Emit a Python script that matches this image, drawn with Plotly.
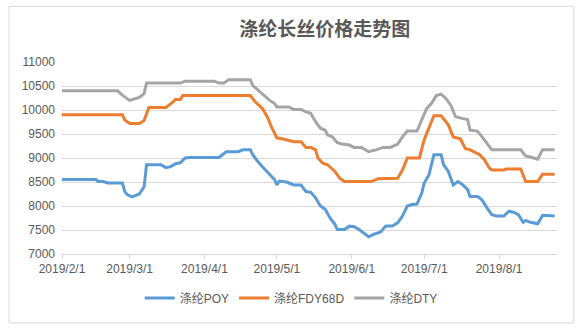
import plotly.graph_objects as go

# Polyester filament prices (yuan/ton), 2019
poy_dates = [
    "2019-02-01", "2019-02-15", "2019-02-16", "2019-02-18", "2019-02-20", "2019-02-26",
    "2019-02-27", "2019-02-28", "2019-03-02", "2019-03-05", "2019-03-07", "2019-03-08",
    "2019-03-14", "2019-03-16", "2019-03-18", "2019-03-20", "2019-03-22", "2019-03-24",
    "2019-03-26", "2019-04-07", "2019-04-10", "2019-04-15", "2019-04-17", "2019-04-20",
    "2019-04-21", "2019-04-23", "2019-04-25", "2019-04-27", "2019-04-30", "2019-05-01",
    "2019-05-02", "2019-05-05", "2019-05-08", "2019-05-11", "2019-05-13", "2019-05-15",
    "2019-05-17", "2019-05-19", "2019-05-21", "2019-05-23", "2019-05-25", "2019-05-26",
    "2019-05-29", "2019-05-31", "2019-06-02", "2019-06-04", "2019-06-06", "2019-06-08",
    "2019-06-10", "2019-06-13", "2019-06-15", "2019-06-18", "2019-06-20", "2019-06-22",
    "2019-06-24", "2019-06-26", "2019-06-28", "2019-06-30", "2019-07-01", "2019-07-03",
    "2019-07-05", "2019-07-08", "2019-07-09", "2019-07-11", "2019-07-13", "2019-07-15",
    "2019-07-17", "2019-07-19", "2019-07-20", "2019-07-23", "2019-07-24", "2019-07-25",
    "2019-07-27", "2019-07-29", "2019-07-31", "2019-08-03", "2019-08-05", "2019-08-07",
    "2019-08-09", "2019-08-11", "2019-08-12", "2019-08-14", "2019-08-17", "2019-08-19",
    "2019-08-21", "2019-08-24",
]
poy_values = [
    8550, 8550, 8510, 8510, 8480, 8480,
    8300, 8240, 8190, 8250, 8400, 8860,
    8860, 8800, 8820, 8880, 8900, 9000,
    9010, 9010, 9130, 9130, 9170, 9170,
    9070, 8930, 8820, 8720, 8550, 8440,
    8520, 8500, 8440, 8440, 8300, 8285,
    8170, 8000, 7930, 7750, 7620, 7510,
    7510, 7580, 7570, 7510, 7440, 7360,
    7410, 7460, 7580, 7590, 7650, 7790,
    8000, 8030, 8040, 8270, 8480, 8650,
    9070, 9070, 8860, 8720, 8440, 8510,
    8440, 8340, 8200, 8200, 8170, 8120,
    7960, 7820, 7790, 7790, 7890, 7870,
    7820, 7660, 7700, 7660, 7630, 7800,
    7800, 7790,
]

fdy_dates = [
    "2019-02-01", "2019-02-26", "2019-02-27", "2019-03-01", "2019-03-05", "2019-03-07",
    "2019-03-09", "2019-03-16", "2019-03-19", "2019-03-20", "2019-03-22", "2019-03-23",
    "2019-04-20", "2019-04-22", "2019-04-25", "2019-04-27", "2019-04-29", "2019-05-01",
    "2019-05-04", "2019-05-08", "2019-05-11", "2019-05-13", "2019-05-15", "2019-05-17",
    "2019-05-18", "2019-05-20", "2019-05-22", "2019-05-25", "2019-05-27", "2019-05-29",
    "2019-06-09", "2019-06-12", "2019-06-20", "2019-06-22", "2019-06-24", "2019-06-29",
    "2019-07-01", "2019-07-03", "2019-07-05", "2019-07-08", "2019-07-11", "2019-07-13",
    "2019-07-16", "2019-07-18", "2019-07-20", "2019-07-24", "2019-07-26", "2019-07-28",
    "2019-07-29", "2019-08-03", "2019-08-04", "2019-08-10", "2019-08-12", "2019-08-17",
    "2019-08-19", "2019-08-24",
]
fdy_values = [
    9900, 9900, 9790, 9720, 9720, 9780,
    10050, 10050, 10170, 10220, 10220, 10300,
    10300, 10170, 10030, 9860, 9620, 9420,
    9390, 9340, 9340, 9220, 9220, 9170,
    9000, 8890, 8860, 8720, 8580, 8510,
    8510, 8570, 8580, 8750, 9000, 9000,
    9380, 9620, 9880, 9880, 9690, 9440,
    9400, 9200, 9170, 9070, 8960, 8790,
    8750, 8750, 8770, 8770, 8510, 8510,
    8660, 8660,
]

dty_dates = [
    "2019-02-01", "2019-02-24", "2019-02-26", "2019-03-01", "2019-03-05", "2019-03-07",
    "2019-03-08", "2019-03-22", "2019-03-24", "2019-04-05", "2019-04-07", "2019-04-09",
    "2019-04-11", "2019-04-20", "2019-04-21", "2019-04-24", "2019-04-26", "2019-04-28",
    "2019-04-30", "2019-05-01", "2019-05-06", "2019-05-08", "2019-05-11", "2019-05-13",
    "2019-05-15", "2019-05-17", "2019-05-19", "2019-05-21", "2019-05-22", "2019-05-24",
    "2019-05-26", "2019-05-28", "2019-05-31", "2019-06-02", "2019-06-05", "2019-06-08",
    "2019-06-11", "2019-06-14", "2019-06-17", "2019-06-20", "2019-06-22", "2019-06-24",
    "2019-06-28", "2019-06-30", "2019-07-02", "2019-07-04", "2019-07-06", "2019-07-08",
    "2019-07-10", "2019-07-12", "2019-07-14", "2019-07-17", "2019-07-19", "2019-07-20",
    "2019-07-23", "2019-07-25", "2019-07-27", "2019-07-29", "2019-08-10", "2019-08-12",
    "2019-08-14", "2019-08-17", "2019-08-19", "2019-08-24",
]
dty_values = [
    10400, 10400, 10310, 10200, 10260, 10340,
    10560, 10560, 10600, 10600, 10560, 10560,
    10630, 10630, 10510, 10375, 10300, 10200,
    10135, 10065, 10065, 10010, 10010, 9960,
    9930, 9755, 9620, 9580, 9480, 9440,
    9320, 9290, 9270, 9220, 9220, 9130,
    9170, 9220, 9220, 9290, 9440, 9560,
    9560, 9790, 10030, 10135, 10300, 10330,
    10240, 10100, 9860, 9820, 9800, 9580,
    9560, 9440, 9300, 9170, 9170, 9045,
    9020, 8975, 9170, 9170,
]

series_names = ["涤纶POY", "涤纶FDY68D", "涤纶DTY"]
series_colors = ["#5B9BD5", "#ED7D31", "#A5A5A5"]

month_ticks = ["2019-02-01", "2019-03-01", "2019-04-01", "2019-05-01",
               "2019-06-01", "2019-07-01", "2019-08-01"]
month_labels = ["2019/2/1", "2019/3/1", "2019/4/1", "2019/5/1",
                "2019/6/1", "2019/7/1", "2019/8/1"]
y_ticks = [7000, 7500, 8000, 8500, 9000, 9500, 10000, 10500, 11000]

title_text = "涤纶长丝价格走势图"

TEXT = "#595959"
GRID = "#D9D9D9"
FONT = "Liberation Sans, Arial, Noto Sans CJK SC, sans-serif"

fig = go.Figure()
for name, xs, ys, color in zip(series_names,
                               [poy_dates, fdy_dates, dty_dates],
                               [poy_values, fdy_values, dty_values],
                               series_colors):
    fig.add_trace(go.Scatter(x=xs, y=ys, name=name, mode="lines",
                             line=dict(color=color, width=3)))

fig.update_layout(
    width=581, height=330,
    margin=dict(l=62, r=24, t=62, b=76),
    paper_bgcolor="white", plot_bgcolor="white",
    font=dict(family=FONT, size=12, color=TEXT),
    title=dict(text=title_text, x=0.559, xanchor="center",
               y=0.912, yanchor="middle", yref="container",
               font=dict(family="Noto Sans CJK SC", size=19, color=TEXT,
                         weight="bold")),
    showlegend=True,
    legend=dict(orientation="h", x=0.463, xanchor="center",
                y=-0.229, yanchor="middle",
                font=dict(family=FONT, size=12, color=TEXT),
                itemwidth=30, bgcolor="rgba(0,0,0,0)"),
    xaxis=dict(type="date", range=["2019-02-01", "2019-08-25"],
               tickvals=month_ticks, ticktext=month_labels,
               showgrid=False, zeroline=False,
               showline=True, linecolor=GRID, linewidth=1,
               ticks="outside", ticklen=4, tickcolor=GRID,
               tickfont=dict(size=12, color=TEXT)),
    yaxis=dict(range=[7000, 11000], tickvals=y_ticks,
               ticktext=[str(v) for v in y_ticks],
               showgrid=True, gridcolor=GRID, gridwidth=1,
               zeroline=False, showline=False,
               ticklabelstandoff=6,
               tickfont=dict(size=12, color=TEXT)),
    shapes=[dict(type="rect", xref="paper", yref="paper",
                 x0=-0.107, x1=1.034, y0=-0.359, y1=1.29,
                 line=dict(color=GRID, width=1), fillcolor="rgba(0,0,0,0)",
                 layer="below")],
)

fig.write_html("out.html")
